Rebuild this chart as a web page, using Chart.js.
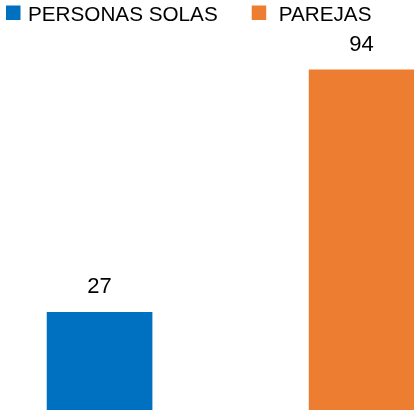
<!DOCTYPE html>
<html>
<head>
<meta charset="utf-8">
<script src="https://cdn.jsdelivr.net/npm/chart.js@4"></script>
<style>
  html, body { margin: 0; padding: 0; background: #fff; }
  #wrap { width: 414px; height: 412px; position: relative; }
</style>
</head>
<body>
<div id="wrap"><canvas id="chart1"></canvas></div>
<script>
const categories = ["PERSONAS SOLAS", "PAREJAS"];
const values = [27, 94];
const colors = ["#0070C0", "#ED7D31"];

const FONT = "'Liberation Sans', Arial, sans-serif";

// legend drawn by hand so the spacing matches the picture
const legendPlugin = {
  id: "topLegend",
  afterDraw(chart) {
    const ctx = chart.ctx;
    const box = 14.5,
      gapText = [7.5, 12.5],
      gapItem = 34;
    let x = 6;
    ctx.save();
    ctx.font = "20.7px " + FONT;
    ctx.textBaseline = "alphabetic";
    ctx.textAlign = "left";
    chart.data.datasets.forEach((ds, i) => {
      ctx.fillStyle = ds.backgroundColor;
      ctx.fillRect(x, 5.5, box, box);
      x += box + gapText[i];
      ctx.fillStyle = "#000";
      ctx.fillText(ds.label, x, 20.7);
      x += ctx.measureText(ds.label).width + gapItem;
    });
    ctx.restore();
  },
};

// value above each bar
const valueLabels = {
  id: "valueLabels",
  afterDatasetsDraw(chart) {
    const ctx = chart.ctx;
    ctx.save();
    ctx.font = "22px " + FONT;
    ctx.fillStyle = "#000";
    ctx.textAlign = "center";
    ctx.textBaseline = "alphabetic";
    chart.data.datasets.forEach((ds, i) => {
      chart.getDatasetMeta(i).data.forEach((el, j) => {
        ctx.fillText(String(ds.data[j].y), el.x, el.y - 19);
      });
    });
    ctx.restore();
  },
};

const datasets = categories.map((c, i) => ({
  label: c,
  data: [{ x: i, y: values[i] }],
  backgroundColor: colors[i],
  barThickness: 105,
  grouped: false,
}));

new Chart(document.getElementById("chart1"), {
  type: "bar",
  data: { datasets },
  options: {
    responsive: true,
    maintainAspectRatio: false,
    animation: false,
    layout: { padding: { top: 30, bottom: 2, left: 0, right: 0 } },
    plugins: {
      legend: { display: false },
      tooltip: { enabled: false },
    },
    scales: {
      x: { type: "linear", min: -0.38, max: 1.2, offset: false, display: false },
      y: { min: 0, max: 105, display: false },
    },
  },
  plugins: [legendPlugin, valueLabels],
});
</script>
</body>
</html>
